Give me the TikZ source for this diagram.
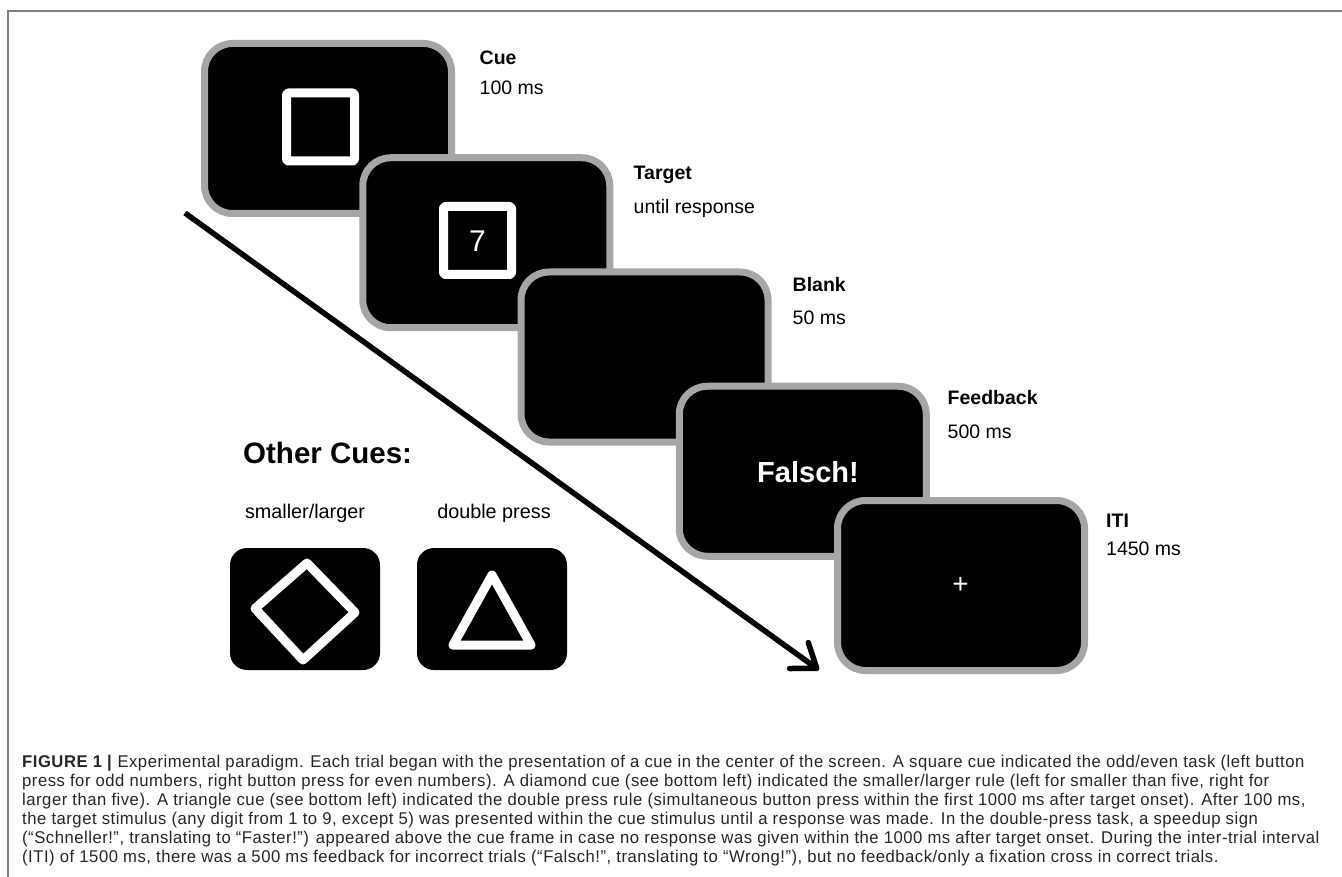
\documentclass[tikz,border=0pt]{standalone}
\usepackage{fontspec}
\setmainfont{Liberation Sans}
\newfontfamily\capfont[FakeStretch=0.98,LetterSpace=3]{Liberation Sans}
\usetikzlibrary{arrows.meta}
\definecolor{scrgray}{HTML}{A6A6A6}
\definecolor{framegray}{HTML}{808080}
\definecolor{capgray}{HTML}{262626}
\tikzset{
  screen/.style={rectangle, rounded corners=28pt, fill=black, draw=scrgray, line width=7pt,
    minimum width=247pt, minimum height=170pt, inner sep=0pt},
  cuebox/.style={rectangle, rounded corners=17pt, fill=black,
    minimum width=150pt, minimum height=122pt, inner sep=0pt},
  stagetitle/.style={font=\fontsize{19.5}{22}\selectfont\bfseries, anchor=base west, inner sep=0pt},
  stagedur/.style={font=\fontsize{19.5}{22}\selectfont, anchor=base west, inner sep=0pt},
  cuelabel/.style={font=\fontsize{19.8}{22}\selectfont, inner sep=0pt},
  cueshape/.style={draw=white, line width=9pt, line join=round},
  capline/.style={font=\capfont\fontsize{17}{19}\selectfont, anchor=base west, inner sep=0pt, text=capgray},
}
\begin{document}
\begin{tikzpicture}[x=1pt,y=-1pt]
\useasboundingbox (0,0) rectangle (1342,877);
% figure frame
\draw[framegray, line width=1.5pt] (8,877) -- (8,11) -- (1342,11);

% arrow end points
\coordinate (arrS) at (185,213);
\coordinate (arrE) at (819,670);

% screens
\node[screen] (s1) at (328,128.5) {};
\draw[cueshape, rounded corners=2pt] (286.5,93) rectangle (354.5,161);
\node[screen] (s2) at (486.25,242.75) {};
\draw[cueshape, rounded corners=2pt] (443.5,206.5) rectangle (511.5,274.5);
\node[text=white, font=\fontsize{30}{32}\selectfont, inner sep=0pt] (seven) at (477.5,241) {7};
\node[screen] (s3) at (644.5,357) {};
\node[screen] (s4) at (802.75,471.25) {};
\node[text=white, font=\fontsize{29}{31}\selectfont\bfseries, inner sep=0pt] (falsch) at (808,472) {Falsch!};
\node[screen] (s5) at (961,585.5) {};
\node[text=white, font=\fontsize{28}{30}\selectfont, inner sep=0pt] (fix) at (960.5,585.5) {+};

\draw[line width=5.5pt, -{Straight Barb[length=22pt,width=32pt,round]}] (arrS) -- (arrE);

% stage labels
\node[stagetitle] (cueT) at (479.5,65) {Cue};
\node[stagedur] (cueD) at (479.5,95) {100 ms};
\node[stagetitle] (tarT) at (633.5,180) {Target};
\node[stagedur] (tarD) at (633.5,213.5) {until response};
\node[stagetitle] (blaT) at (792.5,292) {Blank};
\node[stagedur] (blaD) at (792.5,325) {50 ms};
\node[stagetitle] (fbT) at (947.5,405) {Feedback};
\node[stagedur] (fbD) at (947.5,438) {500 ms};
\node[stagetitle] (itiT) at (1106,527) {ITI};
\node[stagedur] (itiD) at (1106,555) {1450 ms};

% other cues
\node[font=\fontsize{29.5}{32}\selectfont\bfseries, anchor=base west, inner sep=0pt] (other) at (243,463) {Other Cues:};
\node[cuelabel] (slLab) at (305,513) {smaller/larger};
\node[cuelabel] (dpLab) at (494,513) {double press};
\node[cuebox] (box1) at (305,609) {};
\node[cuebox] (box2) at (492,609) {};
\draw[cueshape] (307,563) -- (355,612.5) -- (303,660) -- (255,608.5) -- cycle;
\draw[cueshape] (492,575) -- (531,645) -- (453,645) -- cycle;

% caption
\node[capline] (c1) at (22,767) {\textbf{FIGURE 1 |} Experimental paradigm. Each trial began with the presentation of a cue in the center of the screen. A square cue indicated the odd/even task (left button};
\node[capline] (c2) at (22,786) {press for odd numbers, right button press for even numbers). A diamond cue (see bottom left) indicated the smaller/larger rule (left for smaller than five, right for};
\node[capline] (c3) at (22,805) {larger than five). A triangle cue (see bottom left) indicated the double press rule (simultaneous button press within the first 1000 ms after target onset). After 100 ms,};
\node[capline] (c4) at (22,824) {the target stimulus (any digit from 1 to 9, except 5) was presented within the cue stimulus until a response was made. In the double-press task, a speedup sign};
\node[capline] (c5) at (22,843) {(“Schneller!”, translating to “Faster!”) appeared above the cue frame in case no response was given within the 1000 ms after target onset. During the inter-trial interval};
\node[capline] (c6) at (22,862) {(ITI) of 1500 ms, there was a 500 ms feedback for incorrect trials (“Falsch!”, translating to “Wrong!”), but no feedback/only a fixation cross in correct trials.};
\end{tikzpicture}
\end{document}
